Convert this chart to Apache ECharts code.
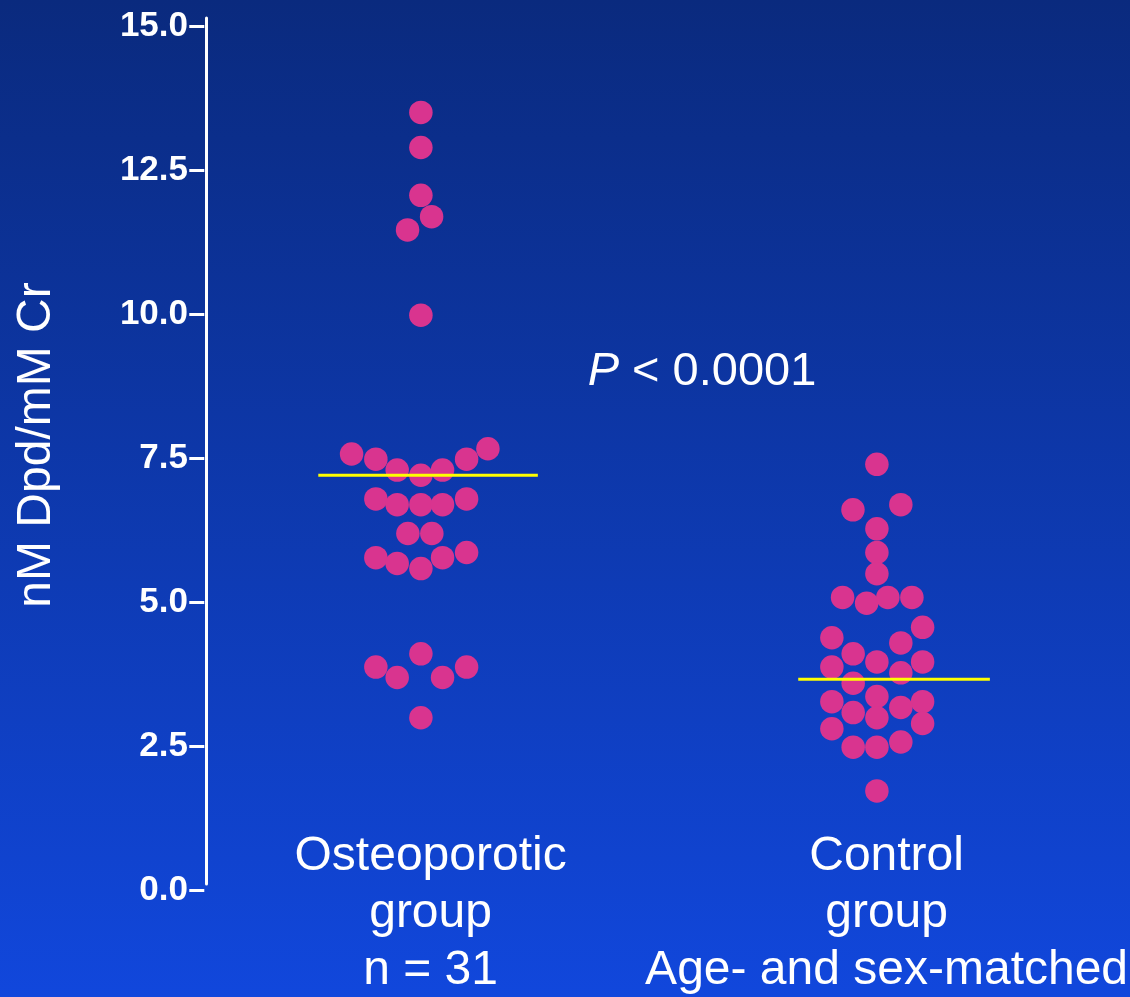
<!DOCTYPE html>
<html>
<head>
<meta charset="utf-8">
<title>nM Dpd/mM Cr</title>
<script src="https://cdn.jsdelivr.net/npm/echarts@6/dist/echarts.min.js"></script>
<style>
html, body { margin: 0; padding: 0; }
#main { width: 1130px; height: 997px; }
</style>
</head>
<body>
<div id="main"></div>
<script>
// groups on the x axis (x units, offsets are the spread of the dots)
var groupNames = ['Osteoporotic\ngroup\nn = 31', 'Control\ngroup\nAge- and sex-matched'];
var groupCenters = [19, 59];

// osteoporotic group
var osteoValues  = [13.50, 12.89, 12.06, 11.69, 11.46, 9.98,
                    7.57, 7.48, 7.29, 7.20, 7.29, 7.48, 7.66,
                    6.79, 6.69, 6.69, 6.69, 6.79, 6.19, 6.19,
                    5.77, 5.67, 5.58, 5.77, 5.86,
                    3.87, 3.69, 4.10, 3.69, 3.87, 2.99];
var osteoOffsets = [0, 0, 0, 0.94, -1.17, 0,
                    -6.08, -3.95, -2.08, 0, 1.90, 4.01, 5.88,
                    -3.95, -2.08, 0, 1.90, 4.01, -1.14, 0.96,
                    -3.95, -2.08, 0, 1.90, 4.01,
                    -3.95, -2.08, 0, 1.90, 4.01, 0];

// control group
var controlValues  = [7.39, 6.60, 6.69, 6.27, 5.86, 5.49,
                      5.08, 4.98, 5.08, 5.08, 4.56, 4.38, 4.29,
                      4.10, 3.96, 3.87, 3.96, 3.77, 3.59, 3.36,
                      3.27, 3.27, 3.17, 3.08, 2.99, 2.80, 2.89,
                      2.57, 2.48, 2.48, 1.72];
var controlOffsets = [0, -2.10, 2.10, 0, 0, 0,
                      -3.01, -0.90, 0.96, 3.07, 4.01, -3.95, 2.10,
                      -2.08, 0, -3.95, 4.01, 2.10, -2.08, 0,
                      -3.95, 4.01, 2.10, -2.08, 0, -3.95, 4.01,
                      2.10, -2.08, 0, 0];

// yellow lines
var medianValues = [7.20, 3.66];
var medianFrom = [-9.0, -6.9];
var medianTo = [10.26, 9.91];

var pText = 'P < 0.0001';
var yTitle = 'nM Dpd/mM Cr';
var yMin = 0, yMax = 15, yStep = 2.5;

var FONT = 'Liberation Sans, Arial, Helvetica, sans-serif';
var DOT = '#d9348f';

var toPoints = function (values, offsets, center) {
	var pts = [];
	for (var i = 0; i < values.length; i++) {
		pts.push([center + offsets[i], values[i]]);
	}
	return pts;
};

var medianLine = function (i) {
	return {
		type: 'line',
		xAxisIndex: 0, yAxisIndex: 0,
		symbol: 'none',
		silent: true,
		z: 5,
		lineStyle: { color: '#ffff00', width: 3 },
		data: [[groupCenters[i] + medianFrom[i], medianValues[i]],
		       [groupCenters[i] + medianTo[i], medianValues[i]]]
	};
};

var chart = echarts.init(document.getElementById('main'));

var option = {
	animation: false,
	backgroundColor: {
		type: 'linear', x: 0, y: 0, x2: 0, y2: 1,
		colorStops: [{ offset: 0, color: '#0a2a7e' }, { offset: 1, color: '#1147dc' }]
	},
	textStyle: { fontFamily: FONT },
	grid: [
		{ left: 202, right: 13.7, top: 26, bottom: 107 },
		// only for the white vertical axis line
		{ left: 206, right: 13.7, top: 18, bottom: 113 }
	],
	xAxis: [
		{ type: 'value', gridIndex: 0, min: -0.2, max: 80, show: false },
		{ type: 'value', gridIndex: 1, min: 0, max: 1, show: false }
	],
	yAxis: [
		{
			type: 'value', gridIndex: 0,
			min: yMin, max: yMax, interval: yStep,
			axisLine: { show: false },
			axisTick: { show: true, length: 15, lineStyle: { color: '#ffffff', width: 3 } },
			axisLabel: {
				margin: 14,
				color: '#ffffff',
				fontSize: 35,
				fontWeight: 'bold',
				fontFamily: FONT,
				formatter: function (v) { return v.toFixed(1); }
			},
			splitLine: { show: false }
		},
		{
			type: 'value', gridIndex: 1, min: 0, max: 1,
			axisLine: { show: true, lineStyle: { color: '#ffffff', width: 3 } },
			axisTick: { show: false },
			axisLabel: { show: false },
			splitLine: { show: false }
		}
	],
	series: [
		{
			type: 'scatter',
			xAxisIndex: 0, yAxisIndex: 0,
			symbolSize: 23.5,
			itemStyle: { color: DOT, opacity: 1 },
			data: toPoints(osteoValues, osteoOffsets, groupCenters[0])
		},
		{
			type: 'scatter',
			xAxisIndex: 0, yAxisIndex: 0,
			symbolSize: 23.5,
			itemStyle: { color: DOT, opacity: 1 },
			data: toPoints(controlValues, controlOffsets, groupCenters[1])
		},
		medianLine(0),
		medianLine(1)
	]
};
chart.setOption(option);

// texts: group names under each group, p value, y title
var labelShift = 0.85;
var graphics = [];
for (var i = 0; i < groupNames.length; i++) {
	var p = chart.convertToPixel({ gridIndex: 0 }, [groupCenters[i] + labelShift, yMin]);
	graphics.push({
		type: 'text',
		x: p[0], y: 828,
		style: {
			text: groupNames[i],
			fill: '#ffffff',
			font: '48px ' + FONT,
			lineHeight: 57,
			align: 'center',
			verticalAlign: 'top'
		}
	});
}
graphics.push({
	type: 'text',
	x: 702, y: 372,
	style: {
		text: '{i|P}' + pText.substring(1),
		fill: '#ffffff',
		font: '47px ' + FONT,
		align: 'center',
		verticalAlign: 'middle',
		rich: { i: { fontStyle: 'italic', fontSize: 47, fontFamily: FONT, fill: '#ffffff' } }
	}
});
graphics.push({
	type: 'text',
	x: 36.4, y: 445,
	rotation: Math.PI / 2,
	style: {
		text: yTitle,
		fill: '#ffffff',
		font: '48px ' + FONT,
		align: 'center',
		verticalAlign: 'middle'
	}
});
chart.setOption({ graphic: graphics });
</script>
</body>
</html>
